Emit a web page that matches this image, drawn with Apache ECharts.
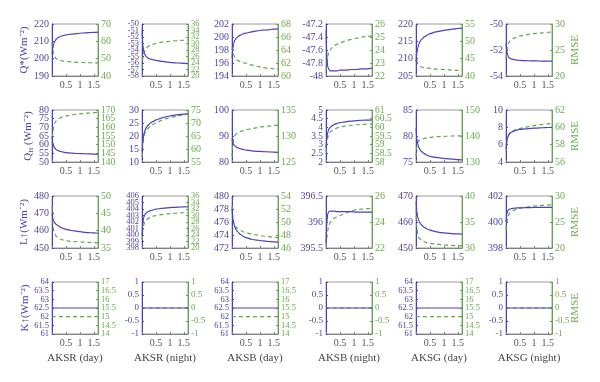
<!DOCTYPE html>
<html><head><meta charset="utf-8">
<script src="https://cdn.jsdelivr.net/npm/echarts@6/dist/echarts.min.js"></script>
<style>html,body{margin:0;padding:0;background:#fff}#c{width:600px;height:382px}</style>
</head><body><div id="c"></div>
<script>
// Shared x positions (AKS parameter)
const X = [0.005, 0.03, 0.06, 0.1, 0.15, 0.2, 0.3, 0.4, 0.5, 0.7, 0.9, 1.1, 1.3, 1.5, 1.65];
const X4 = [0, 1.65];
const xTickLabels = ['0.5', '1', '1.5'];
const colNames = ['AKSR (day)', 'AKSR (night)', 'AKSB (day)', 'AKSB (night)', 'AKSG (day)', 'AKSG (night)'];

// Row 1: Q*
const qs_R_day = [203, 206, 208.5, 210, 211.2, 212, 212.8, 213.3, 213.7, 214.2, 214.5, 214.8, 215, 215.2, 215.3];
const qs_R_day_rmse = [59, 55, 52.5, 51, 50, 49.5, 49, 48.6, 48.4, 48.1, 47.9, 47.8, 47.7, 47.6, 47.6];
const qs_R_night = [-51, -53.2, -54.2, -54.7, -55.0, -55.2, -55.4, -55.5, -55.6, -55.75, -55.85, -55.95, -56.0, -56.05, -56.1];
const qs_R_night_rmse = [22.5, 25.5, 27, 28, 28.6, 29, 29.5, 29.8, 30, 30.4, 30.6, 30.8, 30.9, 31.0, 31.1];
const qs_B_day = [196.8, 198.2, 199, 199.5, 199.8, 200.0, 200.3, 200.5, 200.6, 200.8, 200.95, 201.05, 201.1, 201.2, 201.25];
const qs_B_day_rmse = [64.5, 63.8, 63.3, 62.9, 62.6, 62.4, 62.2, 62.05, 61.95, 61.7, 61.5, 61.3, 61.2, 61.1, 61.0];
const qs_B_night = [-47.3, -47.7, -47.85, -47.9, -47.92, -47.92, -47.92, -47.92, -47.91, -47.91, -47.9, -47.9, -47.89, -47.89, -47.88];
const qs_B_night_rmse = [22.4, 23.1, 23.5, 23.8, 24.0, 24.15, 24.35, 24.45, 24.55, 24.7, 24.82, 24.92, 25.0, 25.05, 25.08];
const qs_G_day = [209, 211.5, 213, 214.2, 215, 215.6, 216.3, 216.8, 217.2, 217.7, 218.0, 218.3, 218.5, 218.7, 218.8];
const qs_G_day_rmse = [46.5, 44.5, 43.5, 43, 42.8, 42.6, 42.4, 42.3, 42.2, 42.0, 41.9, 41.8, 41.7, 41.6, 41.5];
const qs_G_night = [-51.5, -52.1, -52.4, -52.55, -52.65, -52.7, -52.75, -52.78, -52.8, -52.82, -52.83, -52.84, -52.85, -52.85, -52.86];
const qs_G_night_rmse = [23.5, 25, 25.8, 26.4, 26.8, 27.0, 27.3, 27.5, 27.7, 27.9, 28.1, 28.2, 28.3, 28.4, 28.5];

// Row 2: QH
const qh_R_day = [65, 61, 59, 58, 57.2, 56.7, 56.1, 55.7, 55.4, 55.1, 54.9, 54.8, 54.7, 54.6, 54.6];
const qh_R_day_rmse = [150, 157, 160.5, 162.5, 163.8, 164.6, 165.5, 166.1, 166.6, 167.2, 167.6, 167.9, 168.2, 168.5, 168.7];
const qh_R_night = [14, 18, 20.5, 22, 23.2, 24, 25, 25.6, 26.2, 26.9, 27.5, 27.9, 28.2, 28.4, 28.5];
const qh_R_night_rmse = [57, 61.5, 64, 65.8, 67, 67.8, 68.8, 69.5, 70, 71, 71.8, 72.3, 72.8, 73.2, 73.5];
const qh_B_day = [89, 87.5, 86.7, 86.2, 85.8, 85.5, 85.1, 84.8, 84.6, 84.3, 84.1, 84.0, 83.9, 83.8, 83.7];
const qh_B_day_rmse = [126, 128.5, 129.5, 130.1, 130.4, 130.6, 130.9, 131.0, 131.2, 131.4, 131.6, 131.8, 131.9, 132.0, 132.1];
const qh_B_night = [2.8, 3.4, 3.7, 3.9, 4.0, 4.08, 4.17, 4.23, 4.27, 4.32, 4.36, 4.39, 4.41, 4.42, 4.43];
const qh_B_night_rmse = [58.5, 59.1, 59.4, 59.6, 59.72, 59.8, 59.9, 59.97, 60.02, 60.08, 60.12, 60.15, 60.17, 60.18, 60.19];
const qh_G_day = [81.5, 79.5, 78.5, 77.8, 77.3, 77.0, 76.6, 76.3, 76.1, 75.9, 75.75, 75.65, 75.55, 75.45, 75.4];
const qh_G_day_rmse = [132, 136, 137.5, 138.2, 138.6, 138.8, 139.1, 139.3, 139.5, 139.7, 139.8, 139.9, 140.0, 140.05, 140.1];
const qh_G_night = [5.5, 6.4, 6.9, 7.2, 7.35, 7.45, 7.6, 7.7, 7.75, 7.83, 7.88, 7.92, 7.95, 7.98, 8.0];
const qh_G_night_rmse = [57.3, 58.3, 58.8, 59.1, 59.3, 59.45, 59.65, 59.78, 59.88, 60.02, 60.15, 60.25, 60.33, 60.4, 60.45];

// Row 3: L up
const lu_R_day = [470, 467, 465.5, 464.5, 463.6, 463, 462, 461.3, 460.8, 460.1, 459.6, 459.2, 458.9, 458.7, 458.5];
const lu_R_day_rmse = [47, 42, 40, 39, 38.4, 38, 37.6, 37.3, 37.1, 36.9, 36.8, 36.7, 36.6, 36.55, 36.5];
const lu_R_night = [400, 401.8, 402.7, 403.1, 403.4, 403.55, 403.75, 403.88, 403.97, 404.1, 404.18, 404.24, 404.29, 404.33, 404.35];
const lu_R_night_rmse = [22.5, 25.5, 27, 28, 28.6, 29.0, 29.5, 29.8, 30.0, 30.3, 30.5, 30.65, 30.75, 30.85, 30.9];
const lu_B_day = [478, 476.6, 475.8, 475.2, 474.8, 474.5, 474.1, 473.8, 473.6, 473.35, 473.2, 473.1, 473.0, 472.95, 472.9];
const lu_B_day_rmse = [52.5, 50.8, 50, 49.5, 49.2, 49.0, 48.7, 48.5, 48.35, 48.15, 48.0, 47.85, 47.75, 47.65, 47.6];
const lu_B_night = [395.6, 396.0, 396.15, 396.2, 396.21, 396.21, 396.21, 396.2, 396.2, 396.2, 396.2, 396.19, 396.19, 396.19, 396.19];
const lu_B_night_rmse = [22.2, 22.8, 23.3, 23.7, 23.95, 24.1, 24.3, 24.4, 24.5, 24.7, 24.85, 24.95, 25.0, 25.03, 25.05];
const lu_G_day = [468, 464, 462, 460.5, 459.5, 458.8, 457.9, 457.3, 456.9, 456.3, 455.9, 455.7, 455.5, 455.4, 455.3];
const lu_G_day_rmse = [37.5, 34, 32.7, 32, 31.7, 31.5, 31.2, 31.0, 30.9, 30.75, 30.65, 30.55, 30.5, 30.45, 30.4];
const lu_G_night = [400.0, 400.6, 400.85, 400.95, 401.0, 401.03, 401.06, 401.08, 401.09, 401.1, 401.11, 401.12, 401.12, 401.13, 401.13];
const lu_G_night_rmse = [23.5, 25, 25.8, 26.4, 26.8, 27.0, 27.3, 27.5, 27.65, 27.85, 28.0, 28.1, 28.2, 28.25, 28.3];

// Row 4: K up (constant)
const ku_day = [62.5, 62.5];
const ku_day_rmse = [15, 15];
const ku_night = [0, 0];
const ku_night_rmse = [0, 0];

const rowData = [
  [[qs_R_day, qs_R_day_rmse], [qs_R_night, qs_R_night_rmse], [qs_B_day, qs_B_day_rmse], [qs_B_night, qs_B_night_rmse], [qs_G_day, qs_G_day_rmse], [qs_G_night, qs_G_night_rmse]],
  [[qh_R_day, qh_R_day_rmse], [qh_R_night, qh_R_night_rmse], [qh_B_day, qh_B_day_rmse], [qh_B_night, qh_B_night_rmse], [qh_G_day, qh_G_day_rmse], [qh_G_night, qh_G_night_rmse]],
  [[lu_R_day, lu_R_day_rmse], [lu_R_night, lu_R_night_rmse], [lu_B_day, lu_B_day_rmse], [lu_B_night, lu_B_night_rmse], [lu_G_day, lu_G_day_rmse], [lu_G_night, lu_G_night_rmse]],
  [[ku_day, ku_day_rmse], [ku_night, ku_night_rmse], [ku_day, ku_day_rmse], [ku_night, ku_night_rmse], [ku_day, ku_day_rmse], [ku_night, ku_night_rmse]]
];

// axis ranges [min, max, interval, fontSize]
const leftAxes = [
  [[190,220,10,10],[-58,-50,1,8.5],[194,202,2,10],[-48,-47.2,0.2,10],[205,220,5,10],[-54,-50,2,10]],
  [[50,80,5,10],[10,30,5,10],[80,100,10,10],[2,5,0.5,9.5],[75,85,5,10],[4,10,2,10]],
  [[450,480,10,10],[398,406,1,8.5],[472,480,2,10],[395.5,396.5,0.5,10],[450,470,10,10],[398,402,2,10]],
  [[61,64,0.5,8.5],[-1,1,0.5,9],[61,64,0.5,8.5],[-1,1,0.5,9],[61,64,0.5,8.5],[-1,1,0.5,9]]
];
const rightAxes = [
  [[40,70,10,10],[20,36,2,8.5],[60,68,2,10],[22,26,1,10],[40,55,5,10],[20,30,5,10]],
  [[140,170,5,9.5],[55,75,5,10],[125,135,5,10],[58,61,0.5,9.5],[130,150,10,10],[56,62,2,10]],
  [[35,50,5,10],[20,36,2,8.5],[46,54,2,10],[22,26,2,10],[30,40,5,10],[20,30,5,10]],
  [[14,17,0.5,8.5],[-1,1,0.5,9],[14,17,0.5,8.5],[-1,1,0.5,9],[14,17,0.5,8.5],[-1,1,0.5,9]]
];
const rowTitles = ['Q*(Wm⁻²)', 'Q{sub|H} (Wm⁻²)', 'L↑(Wm⁻²)', 'K↑(Wm⁻²)'];
const rowTitleGap = [17, 17, 17, 21];

const BLUE = '#4a40c4', BLUE_T = '#4c44a8', GREEN = '#5fa848', GREEN_T = '#6aa84f';
const FONT = 'Liberation Serif';
const colLeft = [52, 142, 232, 326, 416, 506];
const rowTop = [24, 110, 196, 282];
const W = 46, H = 52;

const grids = [], xAxes = [], yAxes = [], series = [];
const fmtX = v => {
  for (const t of xTickLabels) if (Math.abs(v - parseFloat(t)) < 1e-6) return t;
  return '';
};
// Labels are split across two overlaid axes (even / odd ticks) so that none gets auto-hidden.
const fmtParity = (min, step, parity) => v => {
  const k = Math.round((v - min) / step);
  if (Math.abs(v - (min + k * step)) > step * 1e-4) return '';
  return (k % 2 === parity) ? String(Math.round(v * 1000) / 1000) : '';
};

function addYPair(i, spec, pos, color, textColor, name, nameGap, nameStyle) {
  const [min, max, step, fs] = spec;
  const idx = yAxes.length;
  const common = {type: 'value', gridIndex: i, position: pos, min: min, max: max, interval: step, splitLine: {show: false}};
  yAxes.push(Object.assign({}, common, {
    axisLine: {show: true, onZero: false, lineStyle: {color: color, width: 1}},
    axisTick: {show: true, inside: true, length: 2, lineStyle: {color: color}},
    axisLabel: {formatter: fmtParity(min, step, 0), color: textColor, fontFamily: FONT, fontSize: fs, margin: 3,
      showMinLabel: true, showMaxLabel: true},
    name: name, nameLocation: 'middle', nameRotate: 90, nameGap: nameGap, nameTextStyle: nameStyle
  }));
  yAxes.push(Object.assign({}, common, {
    axisLine: {show: false}, axisTick: {show: false},
    axisLabel: {formatter: fmtParity(min, step, 1), color: textColor, fontFamily: FONT, fontSize: fs, margin: 3,
      showMinLabel: true, showMaxLabel: true}
  }));
  return idx;
}

for (let r = 0; r < 4; r++) {
  for (let c = 0; c < 6; c++) {
    const i = r * 6 + c;
    grids.push({left: colLeft[c], top: rowTop[r], width: W, height: H, show: true,
      borderColor: '#9a9a9a', borderWidth: 1, backgroundColor: 'transparent', containLabel: false});
    xAxes.push({type: 'value', gridIndex: i, min: 0, max: 1.65, interval: 0.5,
      axisLine: {show: true, onZero: false, lineStyle: {color: '#808080', width: 1}},
      axisTick: {show: true, inside: true, length: 2, lineStyle: {color: '#808080'}},
      splitLine: {show: false},
      axisLabel: {formatter: fmtX, color: '#555', fontFamily: FONT, fontSize: 10, margin: 4, showMinLabel: true, showMaxLabel: true},
      name: r === 3 ? colNames[c] : '', nameLocation: 'middle', nameGap: 19,
      nameTextStyle: {color: '#444', fontFamily: FONT, fontSize: 11}
    });
    const li = addYPair(i, leftAxes[r][c], 'left', BLUE, BLUE_T, c === 0 ? rowTitles[r] : '', rowTitleGap[r],
      {color: BLUE_T, fontFamily: FONT, fontSize: 11,
       rich: {sub: {fontSize: 7, color: BLUE_T, fontFamily: FONT, padding: [6, 0, 0, 0]}}});
    const ri = addYPair(i, rightAxes[r][c], 'right', GREEN, GREEN_T, c === 5 ? 'RMSE' : '', 18,
      {color: GREEN_T, fontFamily: FONT, fontSize: 11});
    const xs = r === 3 ? X4 : X;
    const [vals, rmse] = rowData[r][c];
    series.push({type: 'line', xAxisIndex: i, yAxisIndex: ri, showSymbol: false, smooth: 0.3, smoothMonotone: 'x',
      data: xs.map((x, j) => [x, rmse[j]]), lineStyle: {color: GREEN, width: 1.2, type: [4, 3]}, silent: true, animation: false});
    series.push({type: 'line', xAxisIndex: i, yAxisIndex: li, showSymbol: false, smooth: 0.3, smoothMonotone: 'x',
      data: xs.map((x, j) => [x, vals[j]]), lineStyle: {color: BLUE, width: 1.2}, silent: true, animation: false});
  }
}

const chart = echarts.init(document.getElementById('c'), null, {renderer: 'canvas'});
chart.setOption({animation: false, backgroundColor: '#fff', grid: grids, xAxis: xAxes, yAxis: yAxes, series: series});
</script></body></html>
